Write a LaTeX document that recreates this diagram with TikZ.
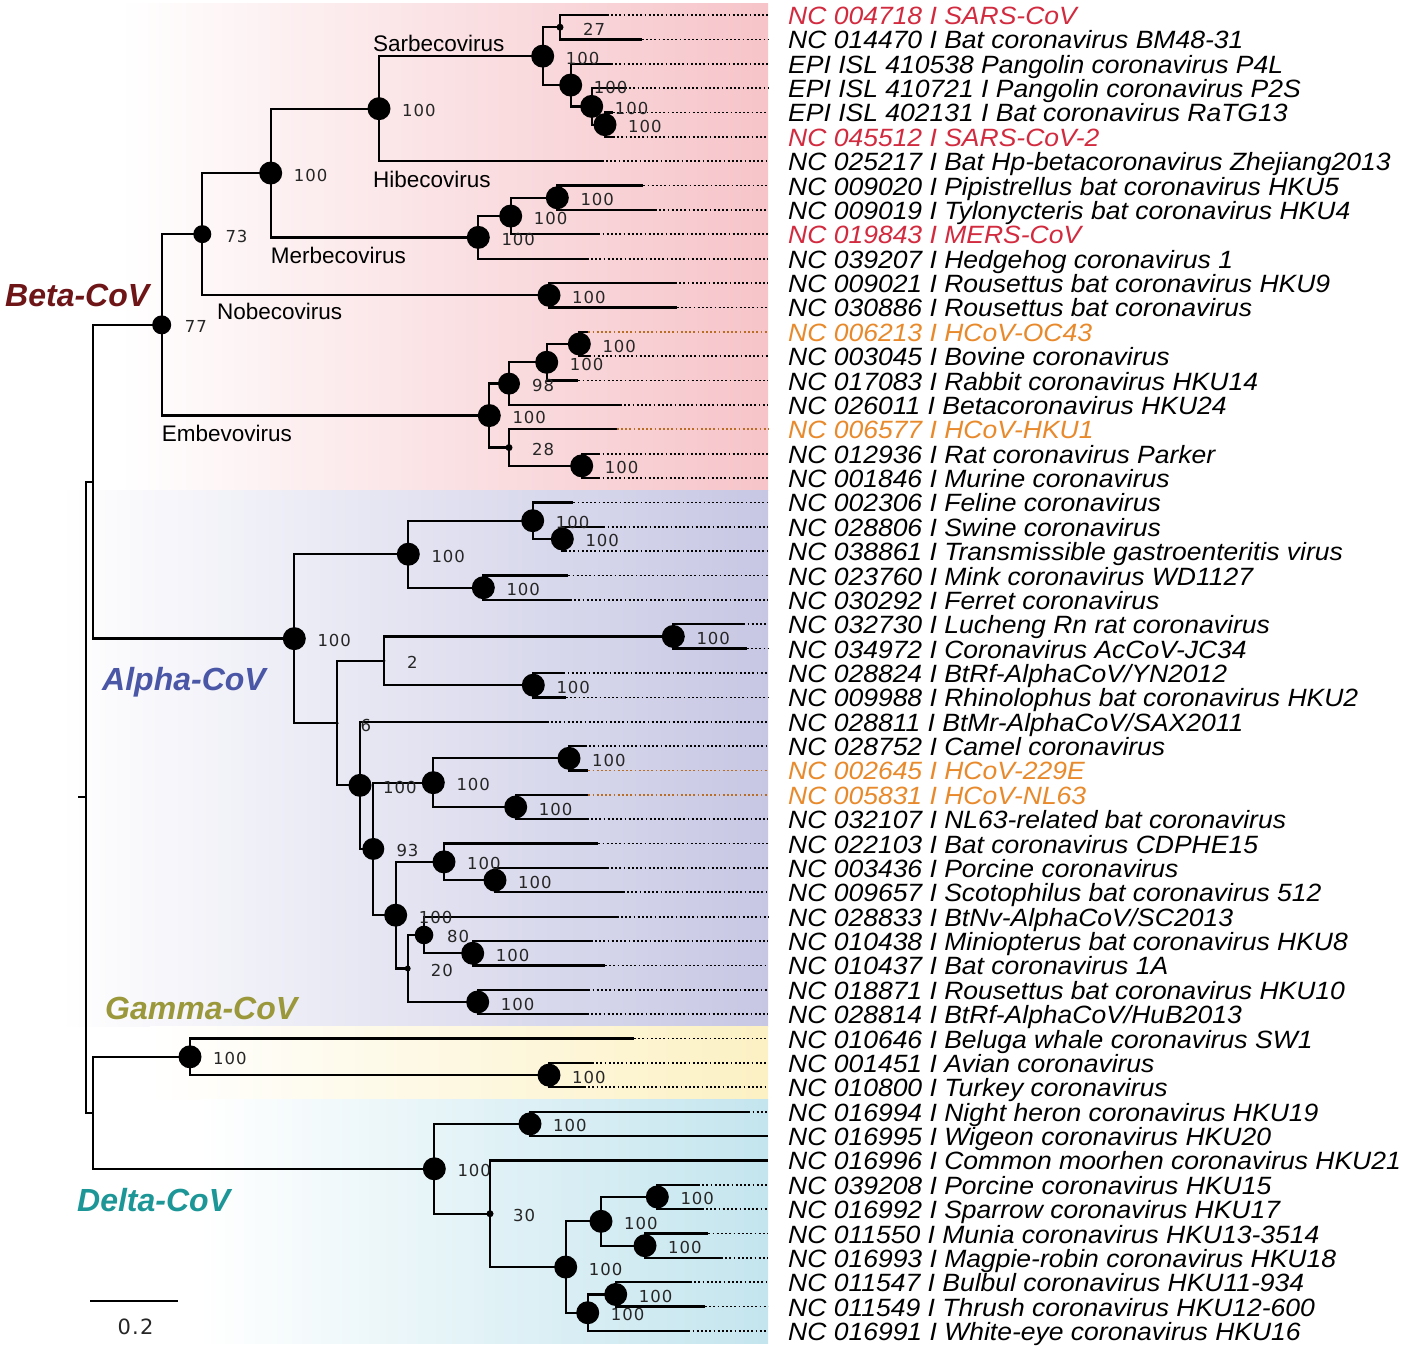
\documentclass[tikz,border=0pt]{standalone}
\usepackage{fontspec}
\setmainfont{Liberation Sans}
\newfontfamily\leaffont[FakeStretch=1.06]{Liberation Sans}
\newfontfamily\numfont[LetterSpace=6]{DejaVu Sans}
\usetikzlibrary{calc}
\definecolor{betaBG}{HTML}{F6C4C9}
\definecolor{alphaBG}{HTML}{C7C7E4}
\definecolor{gammaBG}{HTML}{FCF1C4}
\definecolor{deltaBG}{HTML}{C4E5EE}
\definecolor{hred}{HTML}{D22A3E}
\definecolor{horange}{HTML}{E88A2C}
\definecolor{betaT}{HTML}{6E1518}
\definecolor{alphaT}{HTML}{4A56A6}
\definecolor{gammaT}{HTML}{9A983A}
\definecolor{deltaT}{HTML}{1C9696}
\newcommand\leafname[3]{\node[leaflab,#2] (T#1) at (788,{24.5+24.37*#1}) {#3};}
\begin{document}
\begin{tikzpicture}[x=1pt,y=-1pt,
 br/.style={line width=2.3pt, line join=miter},
 dotline/.style={line width=1.7pt, dash pattern=on 1.8pt off 2.4pt, draw=black},
 dotorange/.style={line width=1.7pt, dash pattern=on 1.8pt off 2.4pt, draw=horange!80!black},
 leaflab/.style={anchor=base west, inner sep=0pt, font=\leaffont\itshape\fontsize{25}{25}\selectfont},
 cladelab/.style={anchor=base west, inner sep=0pt, font=\fontsize{22.5}{22.5}\selectfont},
 grouplab/.style={anchor=base west, inner sep=0pt, font=\bfseries\itshape\fontsize{32}{32}\selectfont},
 suplab/.style={anchor=base west, inner sep=0pt, text=black!85, font=\numfont\fontsize{16.5}{16.5}\selectfont}]

\fill[white] (0,0) rectangle (1404,1350);
\useasboundingbox (0,0) rectangle (1404,1350);

% background panels
\shade[left color=white,right color=betaBG] (120,3) rectangle (768,490.2);
\shade[left color=white,right color=alphaBG] (60,490.2) rectangle (768,1026.4);
\shade[left color=white,right color=gammaBG] (150,1026.4) rectangle (768,1099.5);
\shade[left color=white,right color=deltaBG] (200,1099.5) rectangle (768,1343);

% leaves (end of solid branch)
\foreach \i/\x in {0/606.7,1/641.7,2/611,3/625,4/613,5/613,6/601.7,7/643.3,8/655,9/598.3,
  10/586.7,11/675,12/676.7,13/588.3,14/589.3,15/578.3,16/620,17/616.7,18/598.3,19/598.3,
  20/573.3,21/603.3,22/565,23/568.3,24/570,25/743.3,26/746.7,27/563.3,28/566,29/546.7,
  30/585,31/588.3,32/588.3,33/586.7,34/598.3,35/606.7,36/622.7,37/616.7,38/590.7,39/605,
  40/588.3,41/586.7,42/634,43/592,44/584,45/748.3,46/768,47/768,48/698,49/701.7,
  50/708.3,51/721,52/690,53/705,54/688.3}{
  \coordinate (L\i) at (\x,{15+24.37*\i});
  \coordinate (E\i) at (768,{15+24.37*\i});
}

% internal nodes
\coordinate (n27) at (560,27.19);
\coordinate (nP2) at (605,124.67);
\coordinate (nP1) at (591.7,106.39);
\coordinate (nP0) at (570.7,85.06);
\coordinate (nSarb2) at (542.7,56.12);
\coordinate (nSarb) at (379,108.67);
\coordinate (nMer3) at (557.3,197.78);
\coordinate (nMer2) at (510.7,216.05);
\coordinate (nMer) at (478.3,237.38);
\coordinate (nSH) at (270.7,173.02);
\coordinate (nNob) at (549,295.26);
\coordinate (n73) at (202.3,234.14);
\coordinate (nE4) at (579.3,344.00);
\coordinate (nE3) at (546.7,362.27);
\coordinate (nE2) at (509,383.60);
\coordinate (nE6) at (581.7,465.85);
\coordinate (nE5) at (509,447.57);
\coordinate (nEmb) at (489.3,415.58);
\coordinate (n77) at (161.7,324.86);
\coordinate (nA3) at (562.3,538.96);
\coordinate (nA2) at (532.7,520.68);
\coordinate (nA4) at (483.3,587.70);
\coordinate (nA1) at (408.3,554.19);
\coordinate (nA6) at (673.3,636.44);
\coordinate (nA7) at (533.3,685.18);
\coordinate (nA5) at (384,660.81);
\coordinate (nC2) at (569,758.29);
\coordinate (nC3) at (515.7,807.03);
\coordinate (nC1) at (433.3,782.66);
\coordinate (nD2) at (495,880.14);
\coordinate (nD1) at (444,861.86);
\coordinate (nD5) at (472.7,953.25);
\coordinate (nD4) at (424,934.97);
\coordinate (nD6) at (477.7,1001.99);
\coordinate (nD3) at (407.7,968.48);
\coordinate (nD0) at (395.7,915.17);
\coordinate (n93) at (373.3,848.92);
\coordinate (nB) at (360,785.33);
\coordinate (n6) at (337.3,723.07);
\coordinate (nAlpha) at (294.3,638.63);
\coordinate (nBA) at (93.3,481.75);
\coordinate (nG2) at (549,1075.10);
\coordinate (nG) at (190,1056.82);
\coordinate (nH1) at (530,1123.84);
\coordinate (nH5) at (657.3,1196.95);
\coordinate (nH6) at (645,1245.69);
\coordinate (nH4) at (601,1221.32);
\coordinate (nH8) at (615.7,1294.43);
\coordinate (nH7) at (587.7,1312.71);
\coordinate (nH3) at (565.7,1267.02);
\coordinate (nH2) at (490,1213.71);
\coordinate (nDelta) at (434.3,1168.78);
\coordinate (nGD) at (93.3,1112.80);
\coordinate (root) at (86,797.28);
\coordinate (rtick) at (78,797.28);

% dotted leaf extensions
\foreach \i in {0,...,12,14,15,16,18,19,20,...,30,33,34,...,45,48,49,...,54}
  \draw[dotline] (L\i) -- (E\i);
\foreach \i in {13,17,31,32}
  \draw[dotorange] (L\i) -- (E\i);

% branches
\draw[br] (rtick) -- (root);
\foreach \p/\c in {root/nBA,root/nGD,nBA/n77,nBA/nAlpha,n77/n73,n77/nEmb,n73/nSH,n73/nNob,
  nSH/nSarb,nSH/nMer,nSarb/nSarb2,nSarb/L6,nSarb2/n27,nSarb2/nP0,n27/L0,n27/L1,
  nP0/L2,nP0/nP1,nP1/L3,nP1/nP2,nP2/L4,nP2/L5,nMer/nMer2,nMer/L10,nMer2/nMer3,nMer2/L9,
  nMer3/L7,nMer3/L8,nNob/L11,nNob/L12,nEmb/nE2,nEmb/nE5,nE2/nE3,nE2/L16,nE3/nE4,nE3/L15,
  nE4/L13,nE4/L14,nE5/L17,nE5/nE6,nE6/L18,nE6/L19,
  nAlpha/nA1,nAlpha/n6,nA1/nA2,nA1/nA4,nA2/L20,nA2/nA3,nA3/L21,nA3/L22,nA4/L23,nA4/L24,
  n6/nA5,n6/nB,nA5/nA6,nA5/nA7,nA6/L25,nA6/L26,nA7/L27,nA7/L28,nB/L29,nB/n93,
  n93/nC1,n93/nD0,nC1/nC2,nC1/nC3,nC2/L30,nC2/L31,nC3/L32,nC3/L33,
  nD0/nD1,nD0/nD3,nD1/L34,nD1/nD2,nD2/L35,nD2/L36,nD3/nD4,nD3/nD6,nD4/L37,nD4/nD5,
  nD5/L38,nD5/L39,nD6/L40,nD6/L41,
  nGD/nG,nGD/nDelta,nG/L42,nG/nG2,nG2/L43,nG2/L44,
  nDelta/nH1,nDelta/nH2,nH1/L45,nH1/L46,nH2/L47,nH2/nH3,nH3/nH4,nH3/nH7,nH4/nH5,nH4/nH6,
  nH5/L48,nH5/L49,nH6/L50,nH6/L51,nH7/nH8,nH7/L54,nH8/L52,nH8/L53}
  \draw[br] (\p) |- (\c);

% support circles and values
\foreach \n/\r/\t in {nP2/11.5/100,nP1/11.5/100,nP0/11.5/100,nSarb2/11.5/100,nSarb/11.5/100,
  n27/3.5/27,nMer3/11.5/100,nMer2/11.5/100,nMer/11.5/100,nSH/11.5/100,nNob/11.5/100,
  n73/9/73,nE4/11.5/100,nE3/11.5/100,nE2/11/98,nE6/11.5/100,nE5/3.5/28,nEmb/11.5/100,
  n77/9.5/77,nA3/11.5/100,nA2/11.5/100,nA4/11.5/100,nA1/11.5/100,nA6/11.5/100,nA7/11.5/100,
  nA5/1.5/2,n6/1.5/6,nC2/11.5/100,nC3/11.5/100,nC1/11.5/100,nD2/11.5/100,nD1/11.5/100,
  nD5/11.5/100,nD4/9.3/80,nD6/11.5/100,nD3/3/20,nD0/11.5/100,n93/11/93,nB/11.5/100,
  nAlpha/11.5/100,nG2/11.5/100,nG/11.5/100,nH1/11.5/100,nH5/11.5/100,nH6/11.5/100,
  nH4/11.5/100,nH8/11.5/100,nH7/11.5/100,nH3/11.5/100,nH2/3.5/30,nDelta/11.5/100}{
  \fill (\n) circle[radius=\r pt];
  \node[suplab] (s\n) at ($(\n)+(23,8)$) {\t};
}

% clade names
\node[cladelab] (cSarb) at (373,51.7) {Sarbecovirus};
\node[cladelab] (cHibe) at (373,187) {Hibecovirus};
\node[cladelab] (cMerb) at (270.7,263) {Merbecovirus};
\node[cladelab] (cNobe) at (217,319) {Nobecovirus};
\node[cladelab] (cEmbe) at (161.7,441.7) {Embevovirus};

% genus names
\node[grouplab,text=betaT] (gBeta) at (5,306) {Beta-CoV};
\node[grouplab,text=alphaT] (gAlpha) at (102,690) {Alpha-CoV};
\node[grouplab,text=gammaT] (gGamma) at (105,1019) {Gamma-CoV};
\node[grouplab,text=deltaT] (gDelta) at (77,1211.7) {Delta-CoV};

% scale bar
\coordinate (sb1) at (90,1300.7);
\coordinate (sb2) at (178.3,1300.7);
\draw[line width=2pt] (sb1) -- (sb2);
\node[anchor=base, inner sep=0pt, text=black!85, font=\numfont\fontsize{21}{21}\selectfont] (sbl) at (135.5,1334) {0.2};

% leaf names
\leafname{0}{text=hred}{NC 004718 I SARS-CoV}
\leafname{1}{}{NC 014470 I Bat coronavirus BM48-31}
\leafname{2}{}{EPI ISL 410538 Pangolin coronavirus P4L}
\leafname{3}{}{EPI ISL 410721 I Pangolin coronavirus P2S}
\leafname{4}{}{EPI ISL 402131 I Bat coronavirus RaTG13}
\leafname{5}{text=hred}{NC 045512 I SARS-CoV-2}
\leafname{6}{}{NC 025217 I Bat Hp-betacoronavirus Zhejiang2013}
\leafname{7}{}{NC 009020 I Pipistrellus bat coronavirus HKU5}
\leafname{8}{}{NC 009019 I Tylonycteris bat coronavirus HKU4}
\leafname{9}{text=hred}{NC 019843 I MERS-CoV}
\leafname{10}{}{NC 039207 I Hedgehog coronavirus 1}
\leafname{11}{}{NC 009021 I Rousettus bat coronavirus HKU9}
\leafname{12}{}{NC 030886 I Rousettus bat coronavirus}
\leafname{13}{text=horange}{NC 006213 I HCoV-OC43}
\leafname{14}{}{NC 003045 I Bovine coronavirus}
\leafname{15}{}{NC 017083 I Rabbit coronavirus HKU14}
\leafname{16}{}{NC 026011 I Betacoronavirus HKU24}
\leafname{17}{text=horange}{NC 006577 I HCoV-HKU1}
\leafname{18}{}{NC 012936 I Rat coronavirus Parker}
\leafname{19}{}{NC 001846 I Murine coronavirus}
\leafname{20}{}{NC 002306 I Feline coronavirus}
\leafname{21}{}{NC 028806 I Swine coronavirus}
\leafname{22}{}{NC 038861 I Transmissible gastroenteritis virus}
\leafname{23}{}{NC 023760 I Mink coronavirus WD1127}
\leafname{24}{}{NC 030292 I Ferret coronavirus}
\leafname{25}{}{NC 032730 I Lucheng Rn rat coronavirus}
\leafname{26}{}{NC 034972 I Coronavirus AcCoV-JC34}
\leafname{27}{}{NC 028824 I BtRf-AlphaCoV/YN2012}
\leafname{28}{}{NC 009988 I Rhinolophus bat coronavirus HKU2}
\leafname{29}{}{NC 028811 I BtMr-AlphaCoV/SAX2011}
\leafname{30}{}{NC 028752 I Camel coronavirus}
\leafname{31}{text=horange}{NC 002645 I HCoV-229E}
\leafname{32}{text=horange}{NC 005831 I HCoV-NL63}
\leafname{33}{}{NC 032107 I NL63-related bat coronavirus}
\leafname{34}{}{NC 022103 I Bat coronavirus CDPHE15}
\leafname{35}{}{NC 003436 I Porcine coronavirus}
\leafname{36}{}{NC 009657 I Scotophilus bat coronavirus 512}
\leafname{37}{}{NC 028833 I BtNv-AlphaCoV/SC2013}
\leafname{38}{}{NC 010438 I Miniopterus bat coronavirus HKU8}
\leafname{39}{}{NC 010437 I Bat coronavirus 1A}
\leafname{40}{}{NC 018871 I Rousettus bat coronavirus HKU10}
\leafname{41}{}{NC 028814 I BtRf-AlphaCoV/HuB2013}
\leafname{42}{}{NC 010646 I Beluga whale coronavirus SW1}
\leafname{43}{}{NC 001451 I Avian coronavirus}
\leafname{44}{}{NC 010800 I Turkey coronavirus}
\leafname{45}{}{NC 016994 I Night heron coronavirus HKU19}
\leafname{46}{}{NC 016995 I Wigeon coronavirus HKU20}
\leafname{47}{}{NC 016996 I Common moorhen coronavirus HKU21}
\leafname{48}{}{NC 039208 I Porcine coronavirus HKU15}
\leafname{49}{}{NC 016992 I Sparrow coronavirus HKU17}
\leafname{50}{}{NC 011550 I Munia coronavirus HKU13-3514}
\leafname{51}{}{NC 016993 I Magpie-robin coronavirus HKU18}
\leafname{52}{}{NC 011547 I Bulbul coronavirus HKU11-934}
\leafname{53}{}{NC 011549 I Thrush coronavirus HKU12-600}
\leafname{54}{}{NC 016991 I White-eye coronavirus HKU16}
\end{tikzpicture}
\end{document}
